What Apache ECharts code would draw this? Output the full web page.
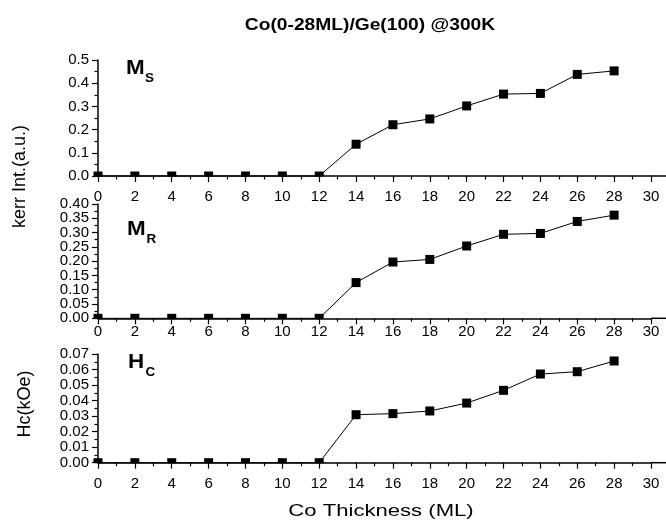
<!DOCTYPE html>
<html>
<head>
<meta charset="utf-8">
<script src="https://cdn.jsdelivr.net/npm/echarts@6/dist/echarts.min.js"></script>
<style>html,body{margin:0;padding:0;background:#fff;}#c{width:666px;height:520px;}</style>
</head>
<body>
<div id="c"></div>
<script>
// ---- data ----
const thickness = [0, 2, 4, 6, 8, 10, 12, 14, 16, 18, 20, 22, 24, 26, 28];
const msValues = [0, 0, 0, 0, 0, 0, 0, 0.137, 0.221, 0.246, 0.302, 0.353, 0.356, 0.438, 0.453];
const mrValues = [0, 0, 0, 0, 0, 0, 0, 0.125, 0.197, 0.206, 0.253, 0.294, 0.297, 0.339, 0.361];
const hcValues = [0, 0, 0, 0, 0, 0, 0, 0.0309, 0.0316, 0.0333, 0.0384, 0.0466, 0.0571, 0.0586, 0.0655];
const titleText = 'Co(0-28ML)/Ge(100) @300K';
const xName = 'Co Thickness (ML)';
const yName1 = 'kerr Int.(a.u.)';
const yName2 = 'Hc(kOe)';

const chart = echarts.init(document.getElementById('c'), null, {renderer: 'canvas'});
const FONT = 'Liberation Sans, Arial, sans-serif';

const grids = [
  {left: 98, top: 60, width: 553, height: 116},
  {left: 98, top: 204, width: 553, height: 114.3},
  {left: 98, top: 354, width: 553, height: 108.7}
];
const yCfg = [
  {max: 0.5, interval: 0.1, dec: 1},
  {max: 0.4, interval: 0.05, dec: 2},
  {max: 0.07, interval: 0.01, dec: 2}
];
const xMargins = [13.2, 5.9, 14.1];

function mkData(vals) {
  return thickness.map((t, i) => {
    const v = vals[i];
    if (v === 0) {
      return {value: [t, v], symbolSize: [9, 5], symbolOffset: [0, -2]};
    }
    return {value: [t, v]};
  });
}

const xAxes = grids.map((g, i) => ({
  type: 'value', gridIndex: i, min: 0, max: 30, interval: 2,
  axisLine: {show: true, onZero: false, lineStyle: {color: '#000', width: 1.5}},
  axisTick: {show: true, inside: false, length: 6, lineStyle: {color: '#000', width: 1.2}},
  minorTick: {show: true, splitNumber: 2, length: 3.5, lineStyle: {color: '#000', width: 1.2}},
  axisLabel: {color: '#000', fontFamily: FONT, fontSize: 15, margin: xMargins[i],
    showMinLabel: true, showMaxLabel: true, hideOverlap: false},
  splitLine: {show: false}
}));
const yAxes = grids.map((g, i) => ({
  type: 'value', gridIndex: i, min: 0, max: yCfg[i].max, interval: yCfg[i].interval,
  axisLine: {show: true, onZero: false, lineStyle: {color: '#000', width: 1.5}},
  axisTick: {show: true, inside: false, length: 6, lineStyle: {color: '#000', width: 1.2}},
  minorTick: {show: true, splitNumber: 2, length: 3.5, lineStyle: {color: '#000', width: 1.2}},
  axisLabel: {color: '#000', fontFamily: FONT, fontSize: 15, margin: 9,
    showMinLabel: i === 1 ? false : true, showMaxLabel: i === 1 ? false : true, hideOverlap: false,
    formatter: (v) => v.toFixed(yCfg[i].dec)},
  splitLine: {show: false}
}));
// companion axis for the dense middle panel: carries only the end labels (0.00 / 0.40)
yAxes.push({
  type: 'value', gridIndex: 1, position: 'left', offset: 0,
  min: 0, max: yCfg[1].max, interval: yCfg[1].max,
  axisLine: {show: false}, axisTick: {show: false}, minorTick: {show: false}, splitLine: {show: false},
  axisLabel: {color: '#000', fontFamily: FONT, fontSize: 15, margin: 9,
    showMinLabel: true, showMaxLabel: true, formatter: (v) => v.toFixed(yCfg[1].dec)}
});

const series = [msValues, mrValues, hcValues].map((vals, i) => ({
  type: 'line', xAxisIndex: i, yAxisIndex: i,
  data: mkData(vals),
  symbol: 'rect', symbolSize: 9,
  lineStyle: {color: '#000', width: 1},
  itemStyle: {color: '#000'},
  clip: false,
  animation: false
}));

function panelLabel(x, y, main, sub, subX) {
  return [
    {type: 'text', x: x, y: y, scaleX: 1.12, style: {text: main, font: 'bold 20px ' + FONT, fill: '#000', align: 'left', verticalAlign: 'middle'}},
    {type: 'text', x: subX, y: y + 11, scaleX: 1.12, style: {text: sub, font: 'bold 12px ' + FONT, fill: '#000', align: 'left', verticalAlign: 'middle'}}
  ];
}

const graphics = [
  {type: 'text', x: 370, y: 26, scaleX: 1.2, style: {text: titleText, font: 'bold 16px ' + FONT, fill: '#000', align: 'center', verticalAlign: 'middle'}},
  {type: 'text', x: 381, y: 511, scaleX: 1.3, style: {text: xName, font: '17px ' + FONT, fill: '#000', align: 'center', verticalAlign: 'middle'}},
  {type: 'text', x: 20, y: 176.5, rotation: Math.PI / 2, style: {text: yName1, font: '18px ' + FONT, fill: '#000', align: 'center', verticalAlign: 'middle'}},
  {type: 'text', x: 25, y: 404, rotation: Math.PI / 2, style: {text: yName2, font: '18px ' + FONT, fill: '#000', align: 'center', verticalAlign: 'middle'}}
].concat(panelLabel(126, 68, 'M', 'S', 145), panelLabel(127, 229, 'M', 'R', 146.5), panelLabel(128, 362, 'H', 'C', 145.5));

// extend the x axis lines past the last tick to the page edge
grids.forEach((g) => {
  const yy = g.top + g.height;
  graphics.push({type: 'line', shape: {x1: g.left + g.width, y1: yy, x2: 666, y2: yy}, style: {stroke: '#000', lineWidth: 1.5}});
});

chart.setOption({
  backgroundColor: '#fff',
  animation: false,
  grid: grids,
  xAxis: xAxes,
  yAxis: yAxes,
  series: series,
  graphic: graphics
});
</script>
</body>
</html>
